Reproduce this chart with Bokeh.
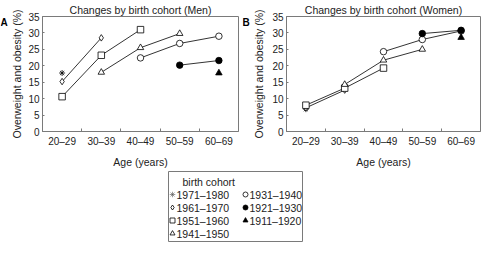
from bokeh.plotting import figure
from bokeh.layouts import row, column
from bokeh.models import Range1d, FixedTicker
from bokeh.core.properties import value
from bokeh.embed import file_html
from bokeh.resources import INLINE

nan = float("nan")

ages = ["20–29", "30–39", "40–49", "50–59", "60–69"]
cohorts = ["1971–1980", "1961–1970", "1951–1960", "1941–1950",
           "1931–1940", "1921–1930", "1911–1920"]
markers = ["asterisk", "diamond", "square", "triangle", "circle", "circle", "triangle"]
filled = [False, False, False, False, False, True, True]

men_1971 = [17.8, nan, nan, nan, nan]
men_1961 = [15.2, 28.5, nan, nan, nan]
men_1951 = [10.6, 23.2, 31.0, nan, nan]
men_1941 = [nan, 18.0, 25.5, 29.8, nan]
men_1931 = [nan, nan, 22.4, 26.8, 29.0]
men_1921 = [nan, nan, nan, 20.2, 21.6]
men_1911 = [nan, nan, nan, nan, 17.8]

women_1971 = [6.8, nan, nan, nan, nan]
women_1961 = [7.2, 12.6, nan, nan, nan]
women_1951 = [8.0, 13.2, 19.3, nan, nan]
women_1941 = [nan, 14.3, 21.7, 25.0, nan]
women_1931 = [nan, nan, 24.3, 28.0, 30.6]
women_1921 = [nan, nan, nan, 29.8, 30.8]
women_1911 = [nan, nan, nan, nan, 28.6]

men = [men_1971, men_1961, men_1951, men_1941, men_1931, men_1921, men_1911]
women = [women_1971, women_1961, women_1951, women_1941, women_1931, women_1921, women_1911]

y_ticks = [0, 5, 10, 15, 20, 25, 30, 35]
panel_letters = ["A", "B"]
panel_titles = ["Changes by birth cohort (Men)", "Changes by birth cohort (Women)"]

FONT = "Liberation Sans"
GRAY = "#7a7a7a"
PANEL_H = 170


def letter_fig(letter, width=8):
    f = figure(width=width, height=PANEL_H, output_backend="svg", toolbar_location=None,
               x_range=Range1d(0, width), y_range=Range1d(0, PANEL_H), min_border=0)
    f.axis.visible = False
    f.grid.visible = False
    f.outline_line_color = None
    f.text(x=[0], y=[PANEL_H], text=[letter], text_font=value(FONT),
           text_font_size="10px", text_font_style="bold", text_baseline="top",
           text_color="black")
    return f


def panel(title, series, width, border_left, label_standoff):
    xs = [i + 0.5 for i in range(len(ages))]
    p = figure(width=width, height=PANEL_H, output_backend="svg", toolbar_location=None,
               x_range=Range1d(0, len(ages)), y_range=Range1d(0, 35),
               min_border_left=border_left, min_border_right=4,
               min_border_top=16, min_border_bottom=34)
    p.title.text = title
    p.title.align = "center"
    p.title.text_font = FONT
    p.title.text_font_size = "10.5px"
    p.title.text_font_style = "normal"
    p.title.text_color = "#222222"
    p.title.standoff = 2
    p.grid.visible = False
    p.outline_line_color = GRAY
    p.outline_line_width = 1
    p.background_fill_color = "white"
    p.border_fill_color = "white"

    xa = p.xaxis[0]
    xa.ticker = FixedTicker(ticks=xs, minor_ticks=list(range(1, len(ages))))
    xa.major_label_overrides = {x: a for x, a in zip(xs, ages)}
    xa.major_tick_in = 0
    xa.major_tick_out = 0
    xa.minor_tick_in = 3
    xa.minor_tick_out = 0
    xa.axis_label = "Age (years)"
    xa.axis_label_standoff = 6
    xa.major_label_standoff = 4

    ya = p.yaxis[0]
    ya.ticker = FixedTicker(ticks=y_ticks, minor_ticks=[])
    ya.major_tick_in = 2
    ya.major_tick_out = 0
    ya.axis_label = "Overweight and obesity (%)"
    ya.axis_label_standoff = label_standoff
    ya.major_label_standoff = 3

    for ax in (xa, ya):
        ax.axis_line_color = GRAY
        ax.major_tick_line_color = GRAY
        ax.minor_tick_line_color = GRAY
        ax.major_label_text_font = FONT
        ax.major_label_text_font_size = "10px"
        ax.major_label_text_color = "#222222"
        ax.axis_label_text_font = FONT
        ax.axis_label_text_font_size = "10.5px"
        ax.axis_label_text_font_style = "normal"
        ax.axis_label_text_color = "#222222"

    for vals in series:
        p.line(xs, vals, line_color="black", line_width=0.8)
    for vals, m, f in zip(series, markers, filled):
        p.scatter(xs, vals, marker=m, size=6.5 if m != "asterisk" else 6,
                  line_color="black", line_width=0.8,
                  fill_color="black" if f else "white")
    return p


lA = letter_fig(panel_letters[0])
pA = panel(panel_titles[0], men, 234, 28, 2)
lB = letter_fig(panel_letters[1])
pB = panel(panel_titles[1], women, 234, 30, 4)

# legend panel
lg = figure(width=484, height=72, output_backend="svg", toolbar_location=None,
            x_range=Range1d(0, 484), y_range=Range1d(0, 72),
            min_border=0)
lg.axis.visible = False
lg.grid.visible = False
lg.outline_line_color = None

box_l, box_r, box_b, box_t = 168, 302, 1, 71
lg.quad(left=[box_l], right=[box_r], bottom=[box_b], top=[box_t],
        fill_color=None, line_color=GRAY, line_width=1)
lg.text(x=[box_l + 14], y=[box_t - 10], text=["birth cohort"],
        text_font=value(FONT), text_font_size="10.5px", text_baseline="middle",
        text_color="#222222")

rows_n = 4
lx, ly, lt = [], [], []
for i, c in enumerate(cohorts):
    col, r = divmod(i, rows_n)
    x0 = box_l + 4 + col * 73
    y0 = box_t - 23 - r * 13
    lg.scatter([x0], [y0], marker=markers[i], size=5 if markers[i] != "asterisk" else 5.5,
               line_color="black" if markers[i] != "asterisk" else "#555555",
               line_width=0.8 if markers[i] != "asterisk" else 0.6,
               fill_color="black" if filled[i] else "white")
    lx.append(x0 + 4)
    ly.append(y0)
    lt.append(c)
lg.text(x=lx, y=ly, text=lt, text_font=value(FONT), text_font_size="10.5px",
        text_baseline="middle", text_color="#222222")

layout = column(row(lA, pA, lB, pB), lg)
open("out.html", "w").write(file_html(layout, INLINE))
